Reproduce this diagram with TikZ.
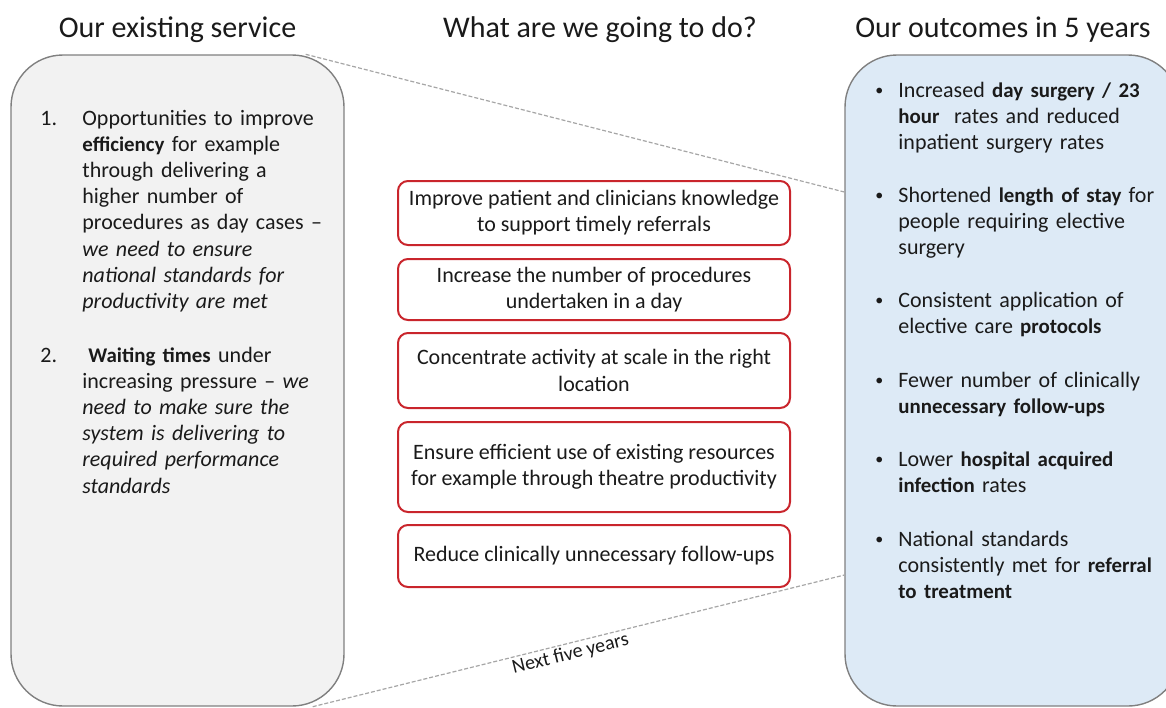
\documentclass[tikz,border=0pt]{standalone}
\usepackage{fontspec}
\setmainfont{Carlito}[BoldFeatures={Scale=0.95}]
\usepackage{xcolor}
\usepackage{tikz}
\definecolor{panelgray}{HTML}{F2F2F2}
\definecolor{panelblue}{HTML}{DDEAF6}
\definecolor{panelline}{HTML}{808080}
\definecolor{dashgray}{HTML}{A6A6A6}
\definecolor{actionred}{HTML}{C9252C}
\definecolor{bodytext}{HTML}{1A1A1A}

\tikzset{
  panel/.style={draw=panelline, line width=0.7pt, rounded corners=26pt,
    minimum height=325.5pt, inner sep=0pt},
  heading/.style={font=\fontsize{15}{17}\selectfont, text=bodytext},
  bodyline/.style={font=\fontsize{11}{13.1}\selectfont, text=bodytext,
    anchor=base west, inner sep=0pt, align=left},
  bulletmark/.style={font=\fontsize{8}{10}\selectfont, text=bodytext,
    anchor=base west, inner sep=0pt},
  actionbox/.style={draw=actionred, line width=1pt, rounded corners=5pt,
    minimum width=196pt, align=center, inner sep=2pt, text=bodytext,
    font=\fontsize{11}{13.1}\selectfont},
  linkline/.style={draw=dashgray, line width=0.6pt, dash pattern=on 2pt off 1pt}
}

\begin{document}
\begin{tikzpicture}[x=0.5pt,y=-0.5pt]
  \useasboundingbox (0,0) rectangle (1166,707);
  \clip (0,0) rectangle (1166,707);

  % column headings
  \node[heading] (headexisting) at (177.5,30) {Our existing service};
  \node[heading] (headplan) at (600,30) {What are we going to do?};
  \node[heading] (headoutcomes) at (1003,30) {Our outcomes in 5 years};

  % the two panels
  \node[panel, fill=panelgray, minimum width=166.5pt] (existing) at (177.5,380.5) {};
  \node[panel, fill=panelblue, minimum width=167.5pt] (outcomes) at (1012.5,380.5) {};

  % dashed funnel between the panels
  \coordinate (topfrom) at ([xshift=-19.5pt]existing.north east);
  \coordinate (topto) at (outcomes.west |- 0,192);
  \coordinate (botfrom) at ([xshift=-16pt]existing.south east);
  \coordinate (botto) at (outcomes.west |- 0,575);
  \draw[linkline] (topfrom) -- (topto);
  \draw[linkline] (botfrom) -- node[pos=0.48, sloped, below, inner sep=1pt,
    font=\fontsize{10}{12}\selectfont, text=bodytext] (nextlabel) {Next five years} (botto);

  % existing service
  \node[bodyline] (num1) at (40,125) {1.};
  \node[bodyline, text width=140pt] (issue1) at (82,125) {Opportunities to improve\\
    \textbf{efficiency} for example\\
    through delivering a\\
    higher number of\\
    procedures as day cases --\\
    \textit{we need to ensure}\\
    \textit{national standards for}\\
    \textit{productivity are met}};
  \node[bodyline] (num2) at (40,362) {2.};
  \node[bodyline, text width=140pt] (issue2) at (82,362) {\hspace{3pt}\textbf{Waiting times} under\\
    increasing pressure -- \textit{we}\\
    \textit{need to make sure the}\\
    \textit{system is delivering to}\\
    \textit{required performance}\\
    \textit{standards}};

  % actions
  \node[actionbox, minimum height=32pt] (act1) at (594,213)
    {Improve patient and clinicians knowledge\\to support timely referrals};
  \node[actionbox, minimum height=30.5pt] (act2) at (594,289.5)
    {Increase the number of procedures\\undertaken in a day};
  \node[actionbox, minimum height=37.5pt] (act3) at (594,370.5)
    {Concentrate activity at scale in the right\\location};
  \node[actionbox, minimum height=45pt] (act4) at (594,467)
    {Ensure efficient use of existing resources\\for example through theatre productivity};
  \node[actionbox, minimum height=31pt] (act5) at (594,556)
    {Reduce clinically unnecessary follow-ups};

  % outcomes
  \node[bulletmark] (dot1) at (875,95) {\textbullet};
  \node[bodyline, text width=135pt] (out1) at (898,97) {Increased \textbf{day surgery / 23}\\
    \textbf{hour}\ \ rates and reduced\\
    inpatient surgery rates};
  \node[bulletmark] (dot2) at (875,200) {\textbullet};
  \node[bodyline, text width=135pt] (out2) at (898,202) {Shortened \textbf{length of stay} for\\
    people requiring elective\\
    surgery};
  \node[bulletmark] (dot3) at (875,305) {\textbullet};
  \node[bodyline, text width=135pt] (out3) at (898,307) {Consistent application of\\
    elective care \textbf{protocols}};
  \node[bulletmark] (dot4) at (875,385) {\textbullet};
  \node[bodyline, text width=135pt] (out4) at (898,387) {Fewer number of clinically\\
    \textbf{unnecessary follow-ups}};
  \node[bulletmark] (dot5) at (875,464) {\textbullet};
  \node[bodyline, text width=135pt] (out5) at (898,466) {Lower \textbf{hospital acquired}\\
    \textbf{infection} rates};
  \node[bulletmark] (dot6) at (875,544) {\textbullet};
  \node[bodyline, text width=135pt] (out6) at (898,546) {National standards\\
    consistently met for \textbf{referral}\\
    \textbf{to treatment}};
\end{tikzpicture}
\end{document}
